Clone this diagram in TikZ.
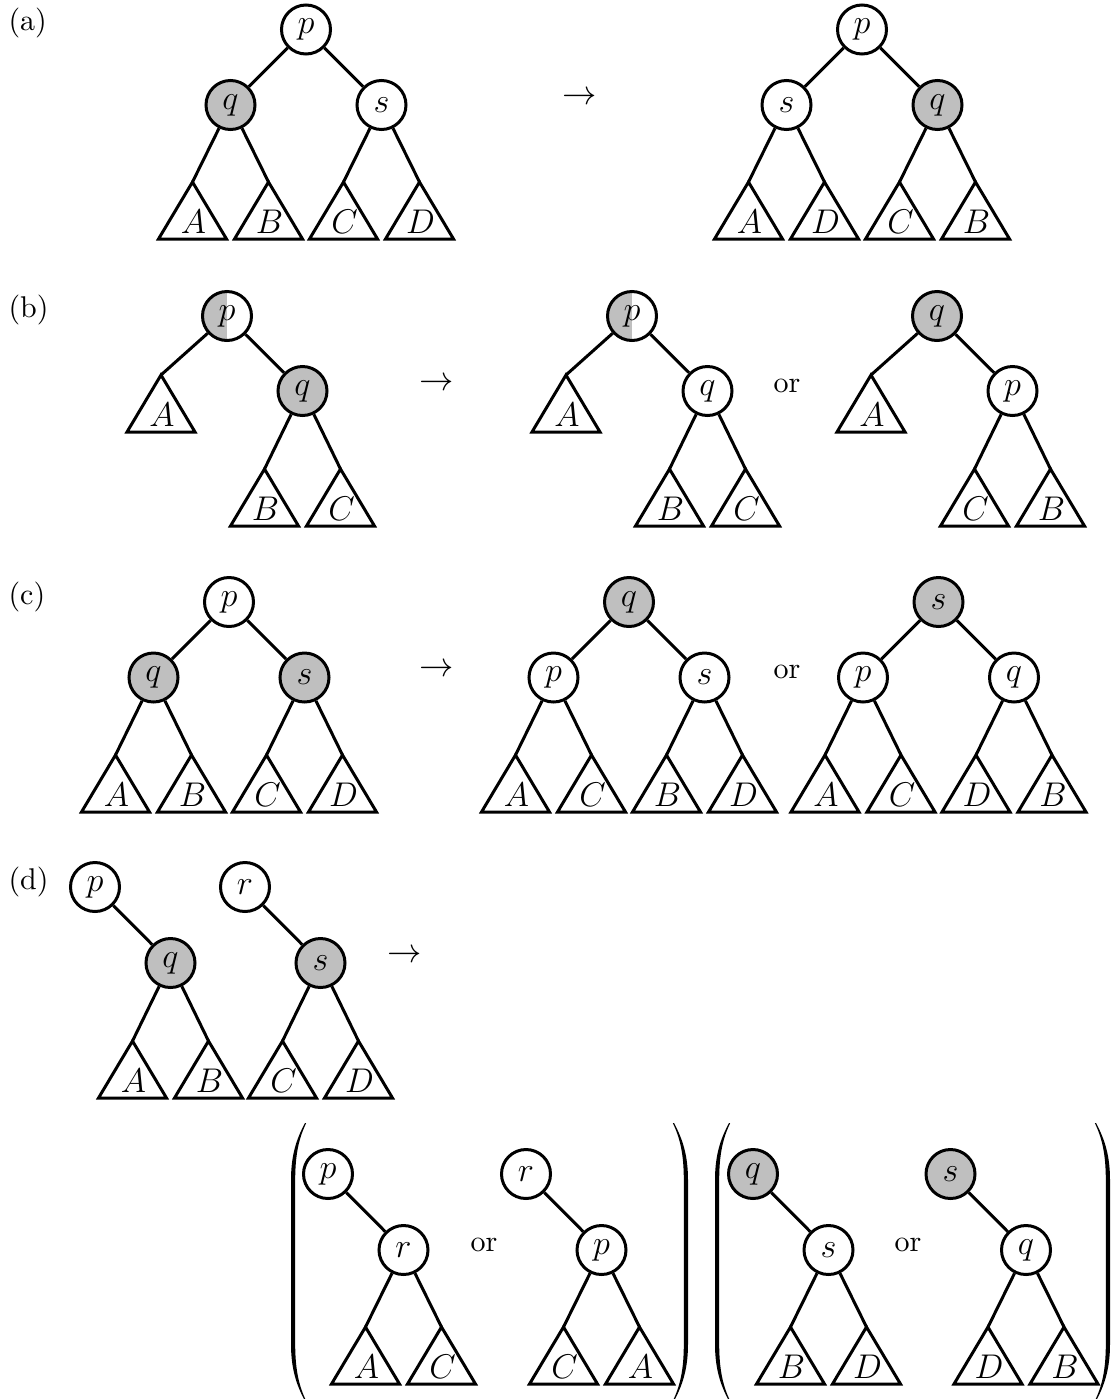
\documentclass[tikz,border=0pt]{standalone}
\definecolor{nodegray}{gray}{0.75}
\tikzset{
  vtx/.style={circle, draw, line width=1.05pt, minimum size=17.15pt, inner sep=0pt, fill=white, font=\fontsize{11.5}{13}\selectfont},
  hot/.style={vtx, fill=nodegray},
  half/.style={vtx, path picture={\fill[nodegray] (path picture bounding box.south west) rectangle (path picture bounding box.north);}},
  edge/.style={line width=1.05pt},
  tri/.style={line width=1.05pt, line join=miter},
  tlabel/.style={anchor=base, inner sep=0pt, font=\fontsize{11.5}{13}\selectfont},
  lbl/.style={anchor=west, inner sep=0pt},
  word/.style={inner sep=0pt},
  arrowsign/.style={inner sep=0pt, font=\fontsize{13}{15}\selectfont},
}
% subtree triangle: name, apex x, apex y, label
\newcommand{\subtri}[4]{%
  \coordinate (#1) at (#2,#3);
  \draw[tri] (#1) -- ++(-34,57) -- ++(68,0) -- cycle;
  \node[tlabel] at ([shift={(1,51)}]#1) {$#4$};
}
% tall left parenthesis, outer edge at the origin
\newcommand{\bigparen}{%
  \fill (14,-139) .. controls (6,-124) and (0,-108) .. (0,-82) -- (0,82)
        .. controls (0,108) and (6,124) .. (14,139) -- (15.2,139)
        .. controls (8,124) and (4.2,108) .. (4.2,82) -- (4.2,-82)
        .. controls (4.2,-108) and (8,-124) .. (15.2,-139) -- cycle;
}
\begin{document}
\begin{tikzpicture}[x=0.35pt, y=-0.35pt, font=\fontsize{10.5}{12.6}\selectfont]
\useasboundingbox (0,0) rectangle (1112,1399);

% ---------- (a) ----------
\node[lbl] (la) at (8,23) {(a)};
\node[vtx] (a1p) at (306,29.5) {$p$};
\node[hot] (a1q) at (230.5,105) {$q$};
\node[vtx] (a1s) at (381.5,105) {$s$};
\subtri{a1A}{192.5}{182}{A}
\subtri{a1B}{268.5}{182}{B}
\subtri{a1C}{343.5}{182}{C}
\subtri{a1D}{419.5}{182}{D}
\draw[edge] (a1p) -- (a1q); \draw[edge] (a1p) -- (a1s);
\draw[edge] (a1q) -- (a1A); \draw[edge] (a1q) -- (a1B);
\draw[edge] (a1s) -- (a1C); \draw[edge] (a1s) -- (a1D);

\node[arrowsign] (arra) at (580,98) {$\rightarrow$};

\node[vtx] (a2p) at (862,29.5) {$p$};
\node[vtx] (a2s) at (786.5,105) {$s$};
\node[hot] (a2q) at (937.5,105) {$q$};
\subtri{a2A}{748.5}{182}{A}
\subtri{a2D}{824.5}{182}{D}
\subtri{a2C}{899.5}{182}{C}
\subtri{a2B}{975.5}{182}{B}
\draw[edge] (a2p) -- (a2s); \draw[edge] (a2p) -- (a2q);
\draw[edge] (a2s) -- (a2A); \draw[edge] (a2s) -- (a2D);
\draw[edge] (a2q) -- (a2C); \draw[edge] (a2q) -- (a2B);

% ---------- (b) ----------
\node[lbl] (lb) at (8,310) {(b)};
\node[half] (b1p) at (227,316) {$p$};
\node[hot] (b1q) at (302.5,391) {$q$};
\subtri{b1A}{161}{375}{A}
\subtri{b1B}{264.5}{469}{B}
\subtri{b1C}{340.5}{469}{C}
\draw[edge] (b1p) -- (b1A); \draw[edge] (b1p) -- (b1q);
\draw[edge] (b1q) -- (b1B); \draw[edge] (b1q) -- (b1C);

\node[arrowsign] (arrb) at (437,384) {$\rightarrow$};

\node[half] (b2p) at (632,316) {$p$};
\node[vtx] (b2q) at (707.5,391) {$q$};
\subtri{b2A}{566}{375}{A}
\subtri{b2B}{669.5}{469}{B}
\subtri{b2C}{745.5}{469}{C}
\draw[edge] (b2p) -- (b2A); \draw[edge] (b2p) -- (b2q);
\draw[edge] (b2q) -- (b2B); \draw[edge] (b2q) -- (b2C);

\node[word] (orb) at (787,386) {or};

\node[hot] (b3q) at (937,316) {$q$};
\node[vtx] (b3p) at (1012.5,391) {$p$};
\subtri{b3A}{871}{375}{A}
\subtri{b3C}{974.5}{469}{C}
\subtri{b3B}{1050.5}{469}{B}
\draw[edge] (b3q) -- (b3A); \draw[edge] (b3q) -- (b3p);
\draw[edge] (b3p) -- (b3C); \draw[edge] (b3p) -- (b3B);

% ---------- (c) ----------
\node[lbl] (lc) at (8,597) {(c)};
\node[vtx] (c1p) at (229,602) {$p$};
\node[hot] (c1q) at (153.5,677.5) {$q$};
\node[hot] (c1s) at (304.5,677.5) {$s$};
\subtri{c1A}{115.5}{755}{A}
\subtri{c1B}{191.5}{755}{B}
\subtri{c1C}{266.5}{755}{C}
\subtri{c1D}{342.5}{755}{D}
\draw[edge] (c1p) -- (c1q); \draw[edge] (c1p) -- (c1s);
\draw[edge] (c1q) -- (c1A); \draw[edge] (c1q) -- (c1B);
\draw[edge] (c1s) -- (c1C); \draw[edge] (c1s) -- (c1D);

\node[arrowsign] (arrc) at (437,670) {$\rightarrow$};

\node[hot] (c2q) at (629,602) {$q$};
\node[vtx] (c2p) at (553.5,677.5) {$p$};
\node[vtx] (c2s) at (704.5,677.5) {$s$};
\subtri{c2A}{515.5}{755}{A}
\subtri{c2C}{591.5}{755}{C}
\subtri{c2B}{666.5}{755}{B}
\subtri{c2D}{742.5}{755}{D}
\draw[edge] (c2q) -- (c2p); \draw[edge] (c2q) -- (c2s);
\draw[edge] (c2p) -- (c2A); \draw[edge] (c2p) -- (c2C);
\draw[edge] (c2s) -- (c2B); \draw[edge] (c2s) -- (c2D);

\node[word] (orc) at (787,672) {or};

\node[hot] (c3s) at (938.5,602) {$s$};
\node[vtx] (c3p) at (863,677.5) {$p$};
\node[vtx] (c3q) at (1014,677.5) {$q$};
\subtri{c3A}{825}{755}{A}
\subtri{c3C}{901}{755}{C}
\subtri{c3D}{976}{755}{D}
\subtri{c3B}{1052}{755}{B}
\draw[edge] (c3s) -- (c3p); \draw[edge] (c3s) -- (c3q);
\draw[edge] (c3p) -- (c3A); \draw[edge] (c3p) -- (c3C);
\draw[edge] (c3q) -- (c3D); \draw[edge] (c3q) -- (c3B);

% ---------- (d) ----------
\node[lbl] (ld) at (8,882) {(d)};
\node[vtx] (d1p) at (95,887) {$p$};
\node[hot] (d1q) at (170.5,963) {$q$};
\subtri{d1A}{132.5}{1041}{A}
\subtri{d1B}{208.5}{1041}{B}
\draw[edge] (d1p) -- (d1q);
\draw[edge] (d1q) -- (d1A); \draw[edge] (d1q) -- (d1B);

\node[vtx] (d1r) at (245,887) {$r$};
\node[hot] (d1s) at (320.5,963) {$s$};
\subtri{d1C}{282.5}{1041}{C}
\subtri{d1D}{358.5}{1041}{D}
\draw[edge] (d1r) -- (d1s);
\draw[edge] (d1s) -- (d1C); \draw[edge] (d1s) -- (d1D);

\node[arrowsign] (arrd) at (405,956) {$\rightarrow$};

% first bracketed pair
\begin{scope}[shift={(291,1262)}] \bigparen \end{scope}
\begin{scope}[shift={(688,1262)}, xscale=-1] \bigparen \end{scope}

\node[vtx] (e1p) at (328,1174) {$p$};
\node[vtx] (e1r) at (403.5,1250) {$r$};
\subtri{e1A}{365.5}{1327}{A}
\subtri{e1C}{441.5}{1327}{C}
\draw[edge] (e1p) -- (e1r);
\draw[edge] (e1r) -- (e1A); \draw[edge] (e1r) -- (e1C);

\node[word] (ore1) at (484,1245) {or};

\node[vtx] (e2r) at (526,1174) {$r$};
\node[vtx] (e2p) at (601.5,1250) {$p$};
\subtri{e2C}{563.5}{1327}{C}
\subtri{e2A}{639.5}{1327}{A}
\draw[edge] (e2r) -- (e2p);
\draw[edge] (e2p) -- (e2C); \draw[edge] (e2p) -- (e2A);

% second bracketed pair
\begin{scope}[shift={(715,1262)}] \bigparen \end{scope}
\begin{scope}[shift={(1110,1262)}, xscale=-1] \bigparen \end{scope}

\node[hot] (f1q) at (753,1174) {$q$};
\node[vtx] (f1s) at (828.5,1250) {$s$};
\subtri{f1B}{790.5}{1327}{B}
\subtri{f1D}{866.5}{1327}{D}
\draw[edge] (f1q) -- (f1s);
\draw[edge] (f1s) -- (f1B); \draw[edge] (f1s) -- (f1D);

\node[word] (orf1) at (908,1245) {or};

\node[hot] (f2s) at (950.5,1174) {$s$};
\node[vtx] (f2q) at (1026,1250) {$q$};
\subtri{f2D}{988}{1327}{D}
\subtri{f2B}{1064}{1327}{B}
\draw[edge] (f2s) -- (f2q);
\draw[edge] (f2q) -- (f2D); \draw[edge] (f2q) -- (f2B);
\end{tikzpicture}
\end{document}
